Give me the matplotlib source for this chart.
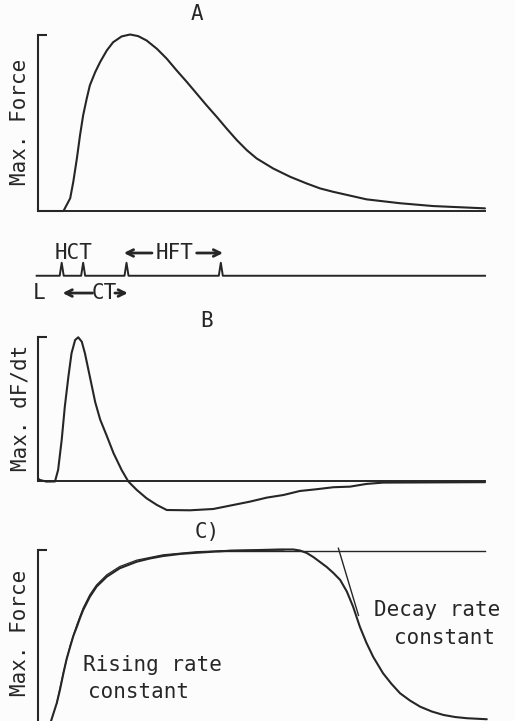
import numpy as np
import matplotlib
matplotlib.use("Agg")
import matplotlib.pyplot as plt

# ---------------- data ----------------
# Panel A: single twitch, force normalised to peak (time: % of sweep)
twitch_t = [0, 5.7, 7.2, 7.9, 8.7, 9.4, 10.1, 10.9, 11.6, 12.8, 13.9, 15.4, 16.8,
            18.7, 20.6, 22.4, 24.3, 26.6, 28.8, 31.0, 33.3, 35.5, 37.7, 40.0,
            42.2, 44.5, 46.7, 48.9, 52.6, 56.4, 60.1, 63.1, 66.0, 73.5, 81.0,
            88.4, 100]
twitch_f = [0, 0, 0.072, 0.166, 0.298, 0.429, 0.542, 0.637, 0.712, 0.787, 0.844,
            0.910, 0.956, 0.989, 1.0, 0.991, 0.966, 0.919, 0.863, 0.797, 0.731,
            0.665, 0.599, 0.533, 0.467, 0.401, 0.345, 0.298, 0.241, 0.194, 0.156,
            0.128, 0.109, 0.066, 0.044, 0.028, 0.015]

# Event markers (L, HCT, peak, HFT)
event_t = [5.3, 10.1, 19.8, 40.9]

# Panel B: dF/dt normalised to its maximum
dfdt_t = [0, 0.45, 1.9, 3.8, 4.5, 5.3, 6.0, 6.8, 7.5, 8.3, 9.0, 9.8, 10.5, 11.6,
          12.8, 13.9, 15.4, 16.9, 18.7, 20.2, 22.1, 24.3, 26.6, 28.8, 34.0, 39.2,
          43.7, 47.4, 51.2, 54.9, 58.6, 62.3, 66.1, 69.8, 73.5, 77.2, 100]
dfdt_v = [0.02, 0.01, -0.001, 0.0, 0.08, 0.288, 0.519, 0.727, 0.889, 0.981, 1.0,
          0.969, 0.889, 0.727, 0.55, 0.43, 0.315, 0.196, 0.080, 0.0, -0.059,
          -0.117, -0.163, -0.198, -0.200, -0.191, -0.163, -0.140, -0.112,
          -0.094, -0.066, -0.054, -0.040, -0.036, -0.017, -0.008, -0.005]

# Panel C: tetanic force with fitted rise and decay tangent
tet_t = [2.6, 4.2, 4.9, 5.7, 6.4, 7.2, 7.9, 8.7, 9.4, 10.1, 11.6, 13.1, 15.4,
         18.3, 22.1, 25.1, 28.0, 31.8, 35.5, 43.0, 49.7, 54.1, 57.1, 58.6, 60.1,
         61.6, 63.1, 64.6, 66.1, 67.6, 69.1, 70.5, 72.0, 73.5, 75.0, 77.2, 79.1,
         81.0, 83.2, 85.5, 88.1, 90.7, 93.3, 95.9, 100.4]
tet_f = [-0.02, 0.110, 0.186, 0.285, 0.366, 0.438, 0.500, 0.554, 0.605, 0.651,
         0.728, 0.787, 0.845, 0.894, 0.932, 0.951, 0.965, 0.977, 0.984, 0.996,
         1.0, 1.003, 1.003, 0.997, 0.983, 0.959, 0.930, 0.901, 0.866, 0.826,
         0.758, 0.670, 0.554, 0.459, 0.378, 0.283, 0.221, 0.167, 0.125, 0.089,
         0.061, 0.041, 0.029, 0.022, 0.016]
rise_fit_t = [4.2, 5.7, 7.2, 8.7, 10.1, 11.6, 13.1, 15.4, 18.3, 22.1, 28.0, 35.5, 43.0, 55.0]
rise_fit_f = [0.11, 0.29, 0.445, 0.565, 0.662, 0.74, 0.797, 0.856, 0.904, 0.941,
              0.972, 0.99, 0.997, 1.0]
plateau_t = [40, 100]
plateau_f = [0.994, 0.994]
decay_tan_t = [67.2, 71.7]
decay_tan_f = [1.01, 0.62]

# ---------------- styling ----------------
W, H = 515, 721
INK = "#262626"
FONT = "DejaVu Sans Mono"
FS = 15

fig = plt.figure(figsize=(W / 100, H / 100), dpi=100, facecolor="#fcfcfc")


def px_axes(left, top, right, bottom):
    return fig.add_axes([left / W, 1 - bottom / H, (right - left) / W, (bottom - top) / H])


def style(ax, ylim, bottom=True, zero_spine=False):
    ax.set_facecolor("none")
    ax.set_xlim(0, 100)
    ax.set_ylim(*ylim)
    for s in ("top", "right"):
        ax.spines[s].set_visible(False)
    ax.spines["left"].set_color(INK)
    ax.spines["left"].set_linewidth(1.5)
    ax.spines["left"].set_bounds(0, 1)
    if bottom:
        ax.spines["bottom"].set_color(INK)
        ax.spines["bottom"].set_linewidth(1.4)
        if zero_spine:
            ax.spines["bottom"].set_position(("data", 0))
    else:
        ax.spines["bottom"].set_visible(False)
    ax.set_xticks([])
    ax.set_yticks([1])
    ax.tick_params(axis="y", direction="in", length=6.5, width=1.5, color=INK,
                   labelleft=False)


line_kw = dict(color=INK, lw=1.5, clip_on=False, solid_capstyle="round",
               solid_joinstyle="round")

# Panel A
axA = px_axes(38, 34.5, 485, 211)
style(axA, (0, 1))
axA.plot(twitch_t, twitch_f, **line_kw)
axA.text(35.6, 1.114, "A", fontsize=FS, family=FONT, color=INK, ha="center", va="center")
axA.text(-4.0, 0.506, "Max. Force", fontsize=FS, family=FONT, color=INK,
         rotation=90, ha="center", va="center")

# Event trace
axS = px_axes(38, 240, 485, 305)
axS.set_xlim(0, 100)
axS.set_ylim(-2.25, 2.75)
axS.axis("off")
tr_t = [-0.3]
tr_y = [0]
for e in event_t:
    tr_t += [e - 0.45, e, e + 0.45]
    tr_y += [0, 1, 0]
tr_t.append(100)
tr_y.append(0)
axS.plot(tr_t, tr_y, color=INK, lw=1.4, clip_on=False)
axS.text(8.05, 1.75, "HCT", fontsize=FS, family=FONT, color=INK, ha="center", va="center")
axS.text(30.6, 1.75, "HFT", fontsize=FS, family=FONT, color=INK, ha="center", va="center")
axS.text(0.2, -1.33, "L", fontsize=FS, family=FONT, color=INK, ha="center", va="center")
axS.text(14.8, -1.33, "CT", fontsize=FS, family=FONT, color=INK, ha="center", va="center")
arrow = dict(arrowstyle="->", color=INK, lw=2.0, mutation_scale=12, shrinkA=0, shrinkB=0)
axS.annotate("", xy=(event_t[2] - 0.6, 1.75), xytext=(25.5, 1.75), arrowprops=arrow)
axS.annotate("", xy=(event_t[3] + 0.5, 1.75), xytext=(35.5, 1.75), arrowprops=arrow)
axS.annotate("", xy=(event_t[0] + 0.2, -1.33), xytext=(12.2, -1.33), arrowprops=arrow)
axS.annotate("", xy=(event_t[2] + 0.3, -1.33), xytext=(17.2, -1.33), arrowprops=arrow)

# Panel B
axB = px_axes(38, 337.3, 485, 517.5)
style(axB, (-0.25, 1), zero_spine=True)
axB.plot(dfdt_t, dfdt_v, **line_kw)
axB.text(37.8, 1.11, "B", fontsize=FS, family=FONT, color=INK, ha="center", va="center")
axB.text(-4.0, 0.51, "Max. dF/dt", fontsize=FS, family=FONT, color=INK,
         rotation=90, ha="center", va="center")

# Panel C
axC = px_axes(38, 550, 485, 722)
style(axC, (0, 1), bottom=False)
axC.plot(plateau_t, plateau_f, color=INK, lw=1.0, clip_on=False)
axC.plot(rise_fit_t, rise_fit_f, color=INK, lw=0.9, clip_on=False)
axC.plot(decay_tan_t, decay_tan_f, color=INK, lw=1.0, clip_on=False)
axC.plot(tet_t, tet_f, **line_kw)
axC.text(37.8, 1.105, "C)", fontsize=FS, family=FONT, color=INK, ha="center", va="center")
axC.text(-4.0, 0.52, "Max. Force", fontsize=FS, family=FONT, color=INK,
         rotation=90, ha="center", va="center")
axC.text(89.2, 0.651, "Decay rate", fontsize=FS, family=FONT, color=INK, ha="center", va="center")
axC.text(91.0, 0.488, "constant", fontsize=FS, family=FONT, color=INK, ha="center", va="center")
axC.text(25.6, 0.331, "Rising rate", fontsize=FS, family=FONT, color=INK, ha="center", va="center")
axC.text(22.4, 0.174, "constant", fontsize=FS, family=FONT, color=INK, ha="center", va="center")

fig.savefig("out.png", dpi=100, facecolor=fig.get_facecolor())
